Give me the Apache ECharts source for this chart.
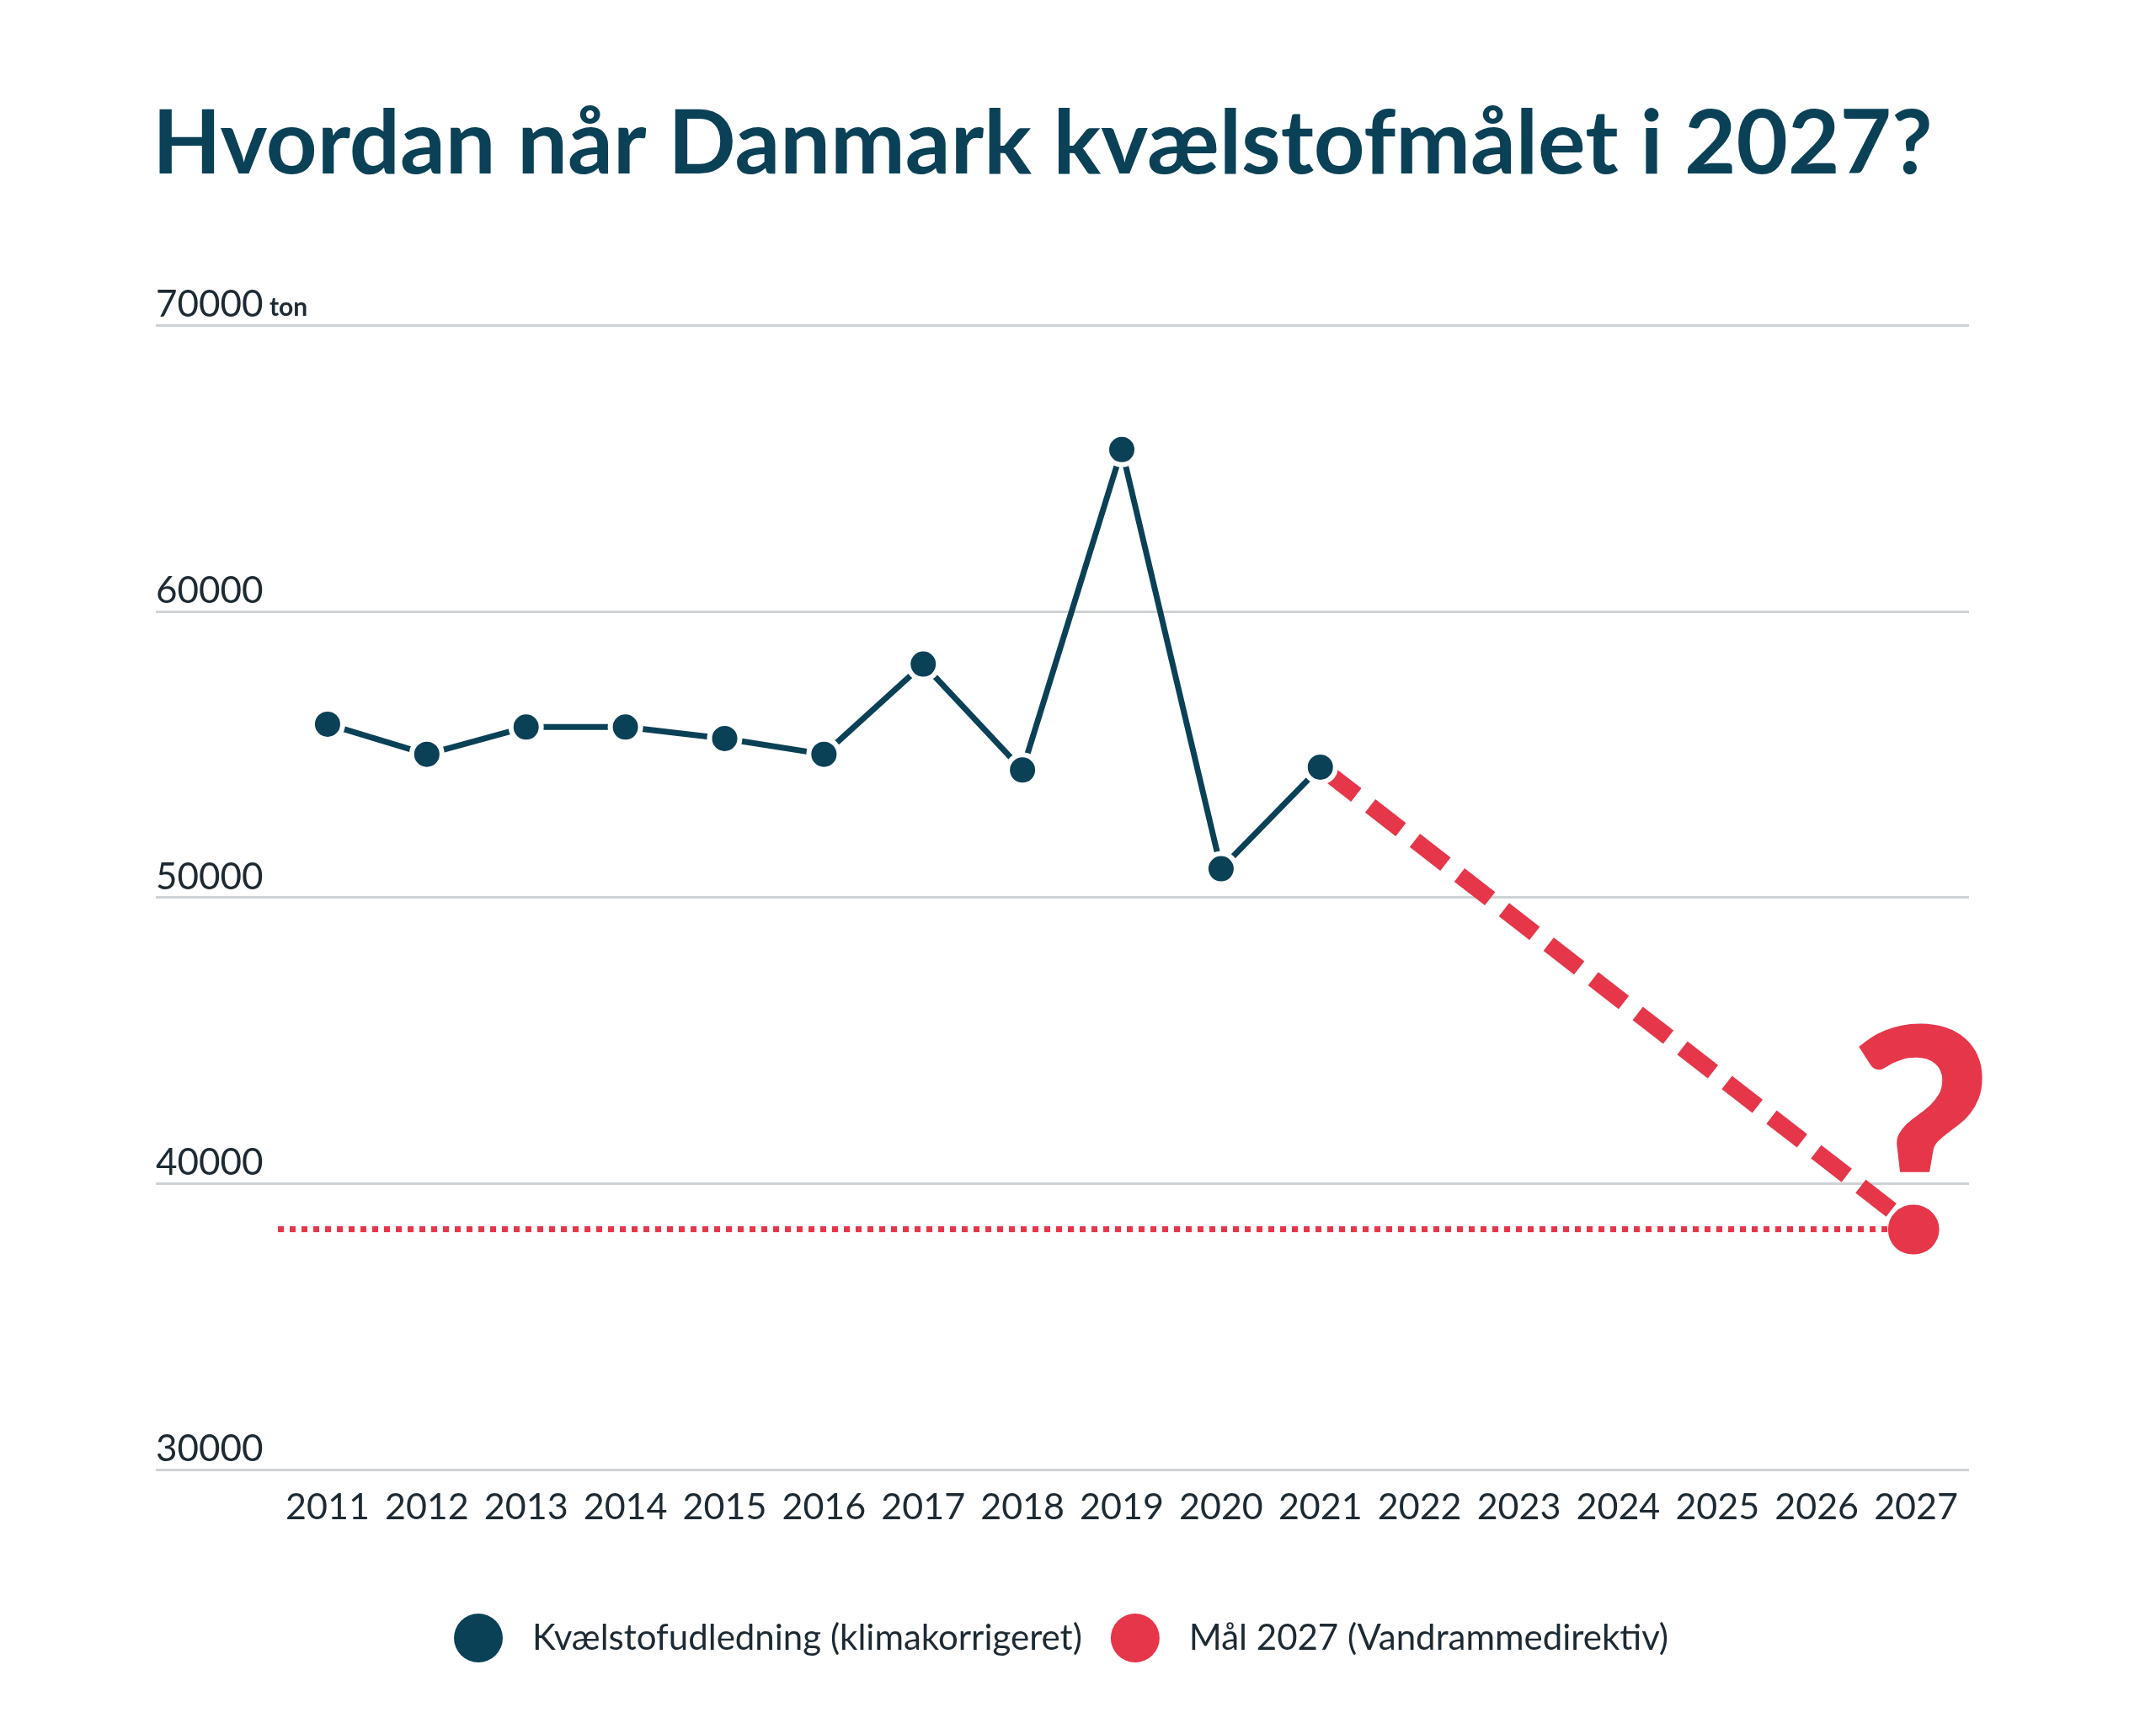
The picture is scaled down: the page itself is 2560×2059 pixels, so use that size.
<!DOCTYPE html>
<html>
<head>
<meta charset="utf-8">
<script src="https://cdn.jsdelivr.net/npm/echarts@6/dist/echarts.min.js"></script>
<style>
  html, body { margin: 0; padding: 0; background: #ffffff; }
  #chart { width: 2560px; height: 2059px; }
</style>
</head>
<body>
<div id="chart"></div>
<script>
// ---- Data ----
const titleText = 'Hvordan når Danmark kvælstofmålet i 2027?';
const years = ['2011','2012','2013','2014','2015','2016','2017','2018','2019','2020','2021','2022','2023','2024','2025','2026','2027'];
const emissions = [56050, 55000, 55950, 55950, 55550, 55000, 58150, 54450, 65650, 51000, 54550];
const targetYear = '2027';
const targetValue = 38400;
const yMin = 30000;
const yMax = 70000;
const yStep = 10000;
const yUnit = 'ton';
const seriesNames = ['Kvælstofudledning (klimakorrigeret)', 'Mål 2027 (Vandrammedirektiv)'];

// ---- Styles ----
const TEAL = '#0b4157';
const RED = '#e6364a';
const GRID = '#cfd3d6';
const TEXT = '#1d2a33';
const FONT = 'Lato';

const lastIdx = emissions.length - 1;
const targetIdx = years.indexOf(targetYear);

const chart = echarts.init(document.getElementById('chart'), null, { renderer: 'canvas' });

const option = {
  backgroundColor: '#ffffff',
  animation: false,
  title: {
    text: titleText,
    left: 176,
    top: 114,
    textStyle: { fontFamily: FONT, fontSize: 106, fontWeight: 'bold', color: TEAL }
  },
  legend: {
    left: 534,
    top: 1911,
    itemWidth: 58,
    itemHeight: 58,
    itemGap: 34,
    icon: 'circle',
    itemStyle: { borderWidth: 0, opacity: 1 },
    textStyle: { fontFamily: FONT, fontSize: 42, color: TEXT, padding: [0, 0, 0, 30] },
    data: seriesNames
  },
  grid: [
    { left: 185, right: 222, top: 386, bottom: 314 },
    { left: 330, right: 226, top: 386, bottom: 314 }
  ],
  xAxis: [
    { gridIndex: 0, type: 'value', min: 0, max: 1, show: false },
    {
      gridIndex: 1, type: 'category', data: years, boundaryGap: true,
      axisLine: { show: false }, axisTick: { show: false }, splitLine: { show: false },
      axisLabel: { fontFamily: FONT, fontSize: 43, color: TEXT, margin: 24, interval: 0 }
    },
    { gridIndex: 1, type: 'value', min: -0.5, max: years.length - 0.5, show: false }
  ],
  yAxis: [
    {
      gridIndex: 0, type: 'value', min: yMin, max: yMax, interval: yStep,
      axisLine: { show: false }, axisTick: { show: false },
      splitLine: { show: true, lineStyle: { color: GRID, width: 3 } },
      axisLabel: {
        inside: true, margin: 0, align: 'left', verticalAlign: 'bottom',
        padding: [0, 0, 2, 0],
        formatter: function (v) {
          return v === yMax ? '{n|' + v + '}{u| ' + yUnit + '}' : '{n|' + v + '}';
        },
        rich: {
          n: { fontFamily: FONT, fontSize: 44, color: TEXT },
          u: { fontFamily: FONT, fontSize: 30, fontWeight: 'bold', color: TEXT, verticalAlign: 'bottom', padding: [0, 0, 4, 0] }
        }
      }
    },
    { gridIndex: 1, type: 'value', min: yMin, max: yMax, interval: yStep, show: false }
  ],
  series: [
    {
      name: 'target-line',
      type: 'line',
      xAxisIndex: 2, yAxisIndex: 1,
      data: [[-0.5, targetValue], [targetIdx, targetValue]],
      symbol: 'none',
      lineStyle: { color: RED, width: 7, type: [7, 7] },
      silent: true, z: 2
    },
    {
      name: 'path',
      type: 'line',
      xAxisIndex: 1, yAxisIndex: 1,
      data: [[years[lastIdx], emissions[lastIdx]], [targetYear, targetValue]],
      symbol: 'none',
      lineStyle: { color: RED, width: 20, type: [46, 21], dashOffset: -8, cap: 'butt', opacity: 1 },
      silent: true, z: 2
    },
    {
      name: seriesNames[1],
      type: 'scatter',
      xAxisIndex: 1, yAxisIndex: 1,
      data: [[targetYear, targetValue]],
      symbol: 'circle',
      symbolSize: 55,
      itemStyle: { color: RED, opacity: 1 },
      label: {
        show: true,
        position: 'inside',
        formatter: '?',
        fontFamily: FONT,
        fontWeight: 900,
        fontSize: 370,
        color: RED,
        offset: [6, -92]
      },
      z: 3
    },
    {
      name: seriesNames[0],
      type: 'line',
      xAxisIndex: 1, yAxisIndex: 1,
      data: emissions,
      symbol: 'circle',
      symbolSize: 36,
      lineStyle: { color: TEAL, width: 7 },
      itemStyle: { color: TEAL, borderColor: '#ffffff', borderWidth: 6 },
      z: 4
    }
  ]
};
chart.setOption(option);
</script>
</body>
</html>
